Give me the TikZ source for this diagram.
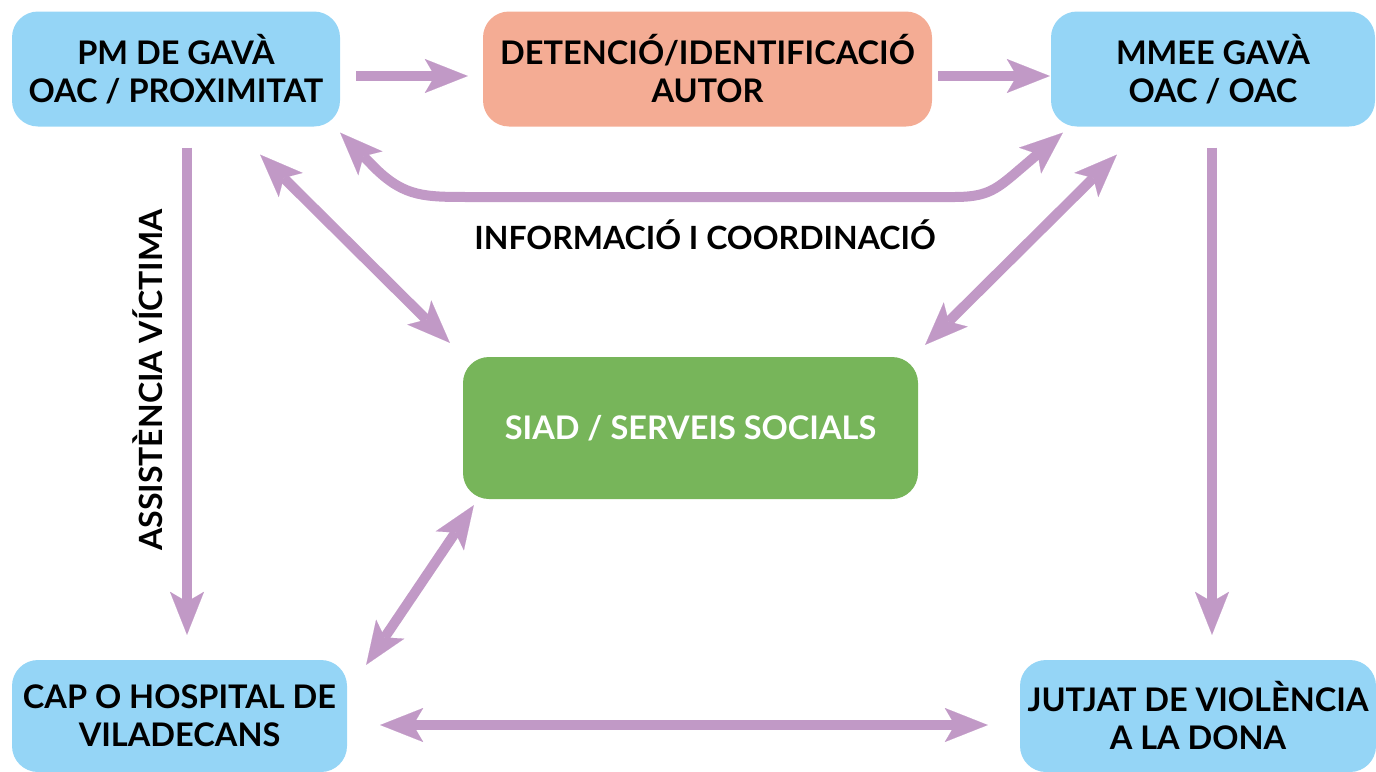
\documentclass[tikz,border=0pt]{standalone}
\usepackage{fontspec}
\setmainfont{Lato}
\usepackage{tikz}
\usetikzlibrary{arrows.meta,calc,positioning}
\definecolor{kasten}{HTML}{95D5F6}
\definecolor{lachs}{HTML}{F4AC94}
\definecolor{gruen}{HTML}{77B55A}
\definecolor{lila}{HTML}{C199C6}

\begin{document}
\begin{tikzpicture}[x=1pt,y=-1pt,
  box/.style={rounded corners=26pt,fill=kasten,align=center,text=black,
    font=\fontsize{32.5}{38}\selectfont\bfseries,inner sep=0pt},
  flow/.style={draw=lila,line width=10pt,
    >={Stealth[length=43pt,width=34pt,inset=10pt,line width=0.1pt]}},
  etikett/.style={font=\fontsize{32}{36}\selectfont\bfseries}]
\useasboundingbox (0,0) rectangle (1376,771);
%Kaesten
\node[box,minimum width=328pt,minimum height=115pt] (pm) at (176,69) {PM DE GAVÀ\\OAC / PROXIMITAT};
\node[box,fill=lachs,minimum width=449pt,minimum height=115pt] (det) at (707.5,69) {DETENCIÓ/IDENTIFICACIÓ\\AUTOR};
\node[box,minimum width=324pt,minimum height=115pt] (mmee) at (1213,69) {MMEE GAVÀ\\OAC / OAC};
\node[box,fill=gruen,text=white,minimum width=455pt,minimum height=142pt] (siad) at (690.5,428) {SIAD / SERVEIS SOCIALS};
\node[box,minimum width=335pt,minimum height=112pt] (cap) at (179.5,716) {CAP O HOSPITAL DE\\VILADECANS};
\node[box,minimum width=356pt,minimum height=112pt] (jutjat) at (1198,716) {JUTJAT DE VIOLÈNCIA\\A LA DONA};
%Pfeile
\draw[flow,->] ($(pm.east)+(16,7)$) -- ($(det.west)+(-15,7)$);
\draw[flow,->] ($(det.east)+(6,7)$) -- ($(mmee.west)+(-1,7)$);
\draw[flow,<->] ($(pm.south east)+(0,6)$) -- (376,169) .. controls (405,197) and (425,197) .. (470,197)
  -- (955,197) .. controls (985,197) and (995,190) .. (1012,176) -- ($(mmee.south west)+(12,6)$);
\draw[flow,<->] ($(pm.south east)+(-80,28)$) -- ($(siad.north west)+(-13,-14)$);
\draw[flow,<->] ($(mmee.south west)+(66,28)$) -- ($(siad.north east)+(7,-12)$);
\draw[flow,->] ($(pm.south)+(11,21)$) -- ($(cap.north)+(7.5,-25)$);
\draw[flow,->] ($(mmee.south)+(-1,21)$) -- ($(jutjat.north)+(14,-25)$);
\draw[flow,<->] ($(siad.south west)+(11,6)$) -- ($(cap.north east)+(19,5)$);
\draw[flow,<->] ($(cap.east)+(33,9)$) -- ($(jutjat.west)+(-32,9)$);
%Beschriftungen
\node[etikett] (info) at (705,235) {INFORMACIÓ I COORDINACIÓ};
\node[etikett,rotate=90] (assist) at (148,380) {ASSISTÈNCIA VÍCTIMA};
\end{tikzpicture}
\end{document}
